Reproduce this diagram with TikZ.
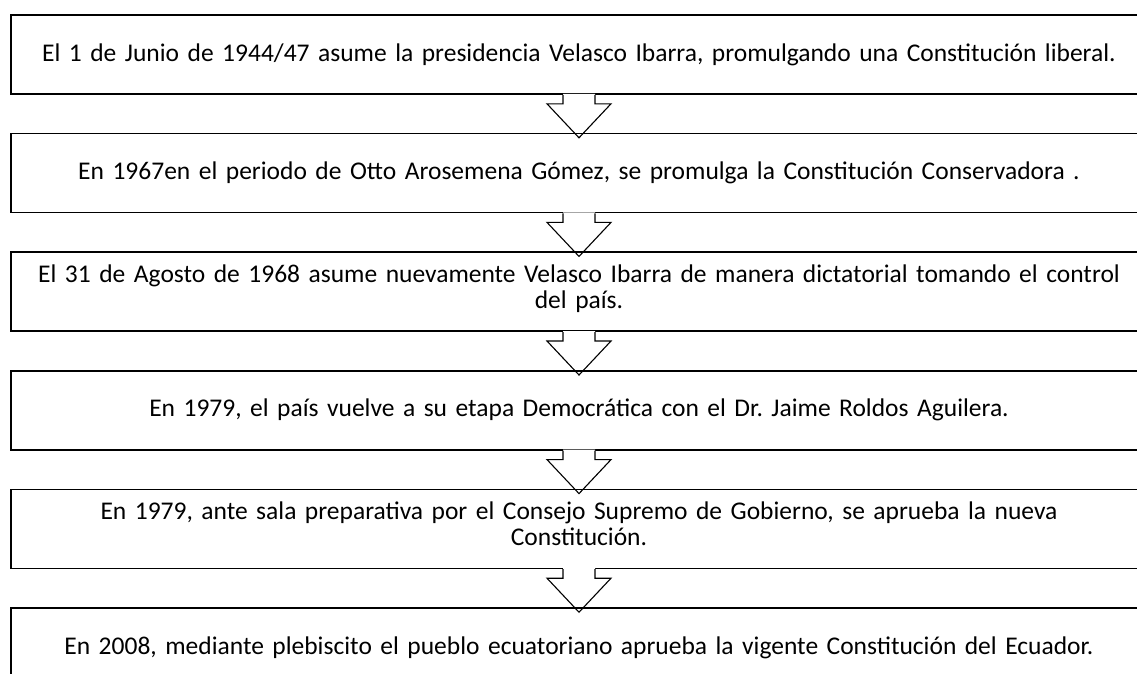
\documentclass[tikz,border=0pt]{standalone}
\usepackage{fontspec}
\setmainfont{Carlito}
\usetikzlibrary{positioning, calc}
\tikzset{
  caja/.style={rectangle, draw=black, line width=1.6pt,
               minimum width=1136pt, minimum height=79pt,
               text width=1128pt, align=center, inner sep=0pt,
               font=\fontsize{25.5}{26}\selectfont},
  cajados/.style={caja, text height=18pt, text depth=37pt},
  flecha/.style={draw=black, line width=1.1pt, line join=miter},
}
% block arrow from the bottom of one box into the next
\newcommand{\bajar}[2]{%
  \begin{scope}
    \clip ([yshift=1pt]#1.south west) rectangle ([yshift=0.8pt]#2.north east);
    \fill[white] ([xshift=-16pt,yshift=1pt]#1.south) -- ([xshift=-16pt,yshift=-9pt]#1.south)
      -- ([xshift=-32pt,yshift=-9pt]#1.south) -- ([yshift=-5pt]#2.north)
      -- ([xshift=32pt,yshift=-9pt]#1.south) -- ([xshift=16pt,yshift=-9pt]#1.south)
      -- ([xshift=16pt,yshift=1pt]#1.south) -- cycle;
  \end{scope}
  \draw[flecha] ([xshift=-16pt]#1.south) -- ([xshift=-16pt,yshift=-9pt]#1.south)
    -- ([xshift=-32pt,yshift=-9pt]#1.south) -- ([yshift=-5pt]#2.north)
    -- ([xshift=32pt,yshift=-9pt]#1.south) -- ([xshift=16pt,yshift=-9pt]#1.south)
    -- ([xshift=16pt]#1.south);
}

\begin{document}
\begin{tikzpicture}[x=1pt, y=-1pt, node distance=38pt]

  \clip (0,0) rectangle (1137,673);

  %% Boxes, top to bottom
  \node[caja] (p1) at (579,54.5)
    {El 1 de Junio de 1944/47 asume la presidencia Velasco Ibarra, promulgando una Constitución liberal.};
  \node[caja, below=of p1] (p2)
    {En 1967en el periodo de Otto Arosemena Gómez, se promulga la Constitución Conservadora .};
  \node[cajados, below=of p2] (p3)
    {El 31 de Agosto de 1968 asume nuevamente Velasco Ibarra de manera dictatorial tomando el control\\del país.};
  \node[caja, below=of p3] (p4)
    {En 1979, el país vuelve a su etapa Democrática con el Dr.\ Jaime Roldos Aguilera.};
  \node[cajados, below=of p4] (p5)
    {En 1979, ante sala preparativa por el Consejo Supremo de Gobierno, se aprueba la nueva\\Constitución.};
  \node[caja, below=of p5] (p6)
    {En 2008, mediante plebiscito el pueblo ecuatoriano aprueba la vigente Constitución del Ecuador.};

  %% Block arrows
  \foreach \a/\b in {p1/p2, p2/p3, p3/p4, p4/p5, p5/p6}
    {\bajar{\a}{\b}}

\end{tikzpicture}
\end{document}
